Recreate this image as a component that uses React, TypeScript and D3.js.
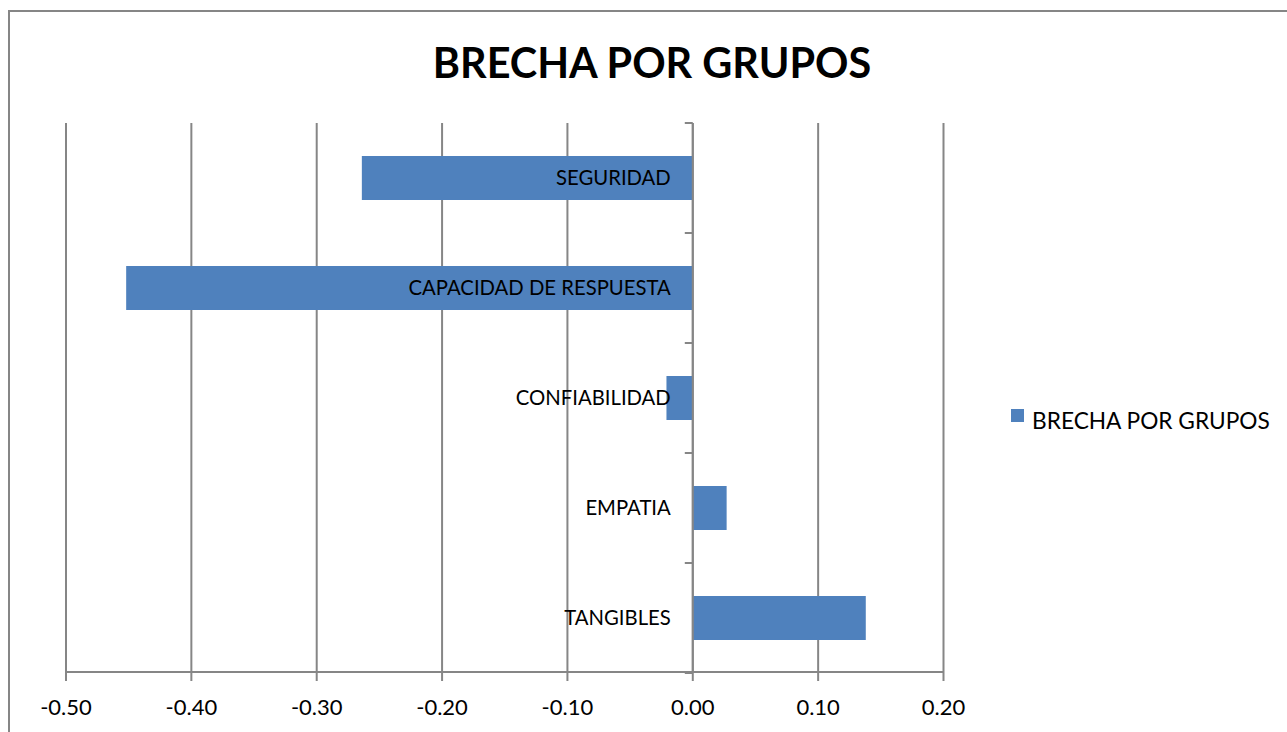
import * as d3 from "d3";
import { useRef, useEffect } from "react";

const categories = ["SEGURIDAD", "CAPACIDAD DE RESPUESTA", "CONFIABILIDAD", "EMPATIA", "TANGIBLES"];
const values = [-0.264, -0.452, -0.021, 0.027, 0.138];
const tickValues = [-0.5, -0.4, -0.3, -0.2, -0.1, 0, 0.1, 0.2];
const seriesName = "BRECHA POR GRUPOS";

export default function App(): JSX.Element {
  const svgRef = useRef<SVGSVGElement>(null);

  useEffect(() => {
    if (!svgRef.current) return;
    const svg = d3.select(svgRef.current);
    svg.selectAll("*").remove();

    const width = 1287;
    const height = 732;
    const font = "Lato, 'Open Sans', sans-serif";
    const grey = "#868686";

    // chart frame
    svg
      .append("rect")
      .attr("x", 9)
      .attr("y", 11)
      .attr("width", width + 20)
      .attr("height", height + 20)
      .attr("fill", "#fff")
      .attr("stroke", grey)
      .attr("stroke-width", 2);

    const left = 66;
    const right = 943.5;
    const top = 123;
    const bottom = 673;

    const x = d3.scaleLinear().domain([-0.5, 0.2]).range([left, right]);
    const y = d3.scaleBand().domain(categories).range([top, bottom]).paddingInner(0.6).paddingOuter(0.3);
    const band = d3.scaleBand().domain(categories).range([top, bottom]);

    // vertical grid lines
    svg
      .append("g")
      .selectAll("line")
      .data(tickValues)
      .join("line")
      .attr("x1", (d) => x(d))
      .attr("x2", (d) => x(d))
      .attr("y1", top)
      .attr("y2", bottom + 8)
      .attr("stroke", grey)
      .attr("stroke-width", 2);

    // bottom axis line
    svg
      .append("line")
      .attr("x1", left)
      .attr("x2", right)
      .attr("y1", bottom - 1)
      .attr("y2", bottom - 1)
      .attr("stroke", grey)
      .attr("stroke-width", 2);

    // bars
    svg
      .append("g")
      .selectAll("rect")
      .data(categories)
      .join("rect")
      .attr("x", (d, i) => Math.min(x(values[i]), x(0)))
      .attr("width", (d, i) => Math.abs(x(values[i]) - x(0)))
      .attr("y", (d) => y(d)!)
      .attr("height", y.bandwidth())
      .attr("fill", "#4F81BD");

    // category axis at zero with ticks
    const x0 = x(0);
    svg
      .append("line")
      .attr("x1", x0)
      .attr("x2", x0)
      .attr("y1", top)
      .attr("y2", bottom)
      .attr("stroke", grey)
      .attr("stroke-width", 2);

    const bandEdges = categories.map((c) => band(c)!).concat([bottom]);
    svg
      .append("g")
      .selectAll("line")
      .data(bandEdges)
      .join("line")
      .attr("x1", x0 - 8)
      .attr("x2", x0)
      .attr("y1", (d) => d)
      .attr("y2", (d) => d)
      .attr("stroke", grey)
      .attr("stroke-width", 2);

    // category labels
    svg
      .append("g")
      .selectAll("text")
      .data(categories)
      .join("text")
      .attr("x", x0 - 22)
      .attr("y", (d) => y(d)! + y.bandwidth() / 2)
      .attr("dy", "0.35em")
      .attr("text-anchor", "end")
      .attr("font-family", font)
      .attr("font-size", 20.3)
      .attr("fill", "#000")
      .text((d) => d);

    // tick labels (hyphen minus, like the original)
    svg
      .append("g")
      .selectAll("text")
      .data(tickValues)
      .join("text")
      .attr("x", (d) => x(d))
      .attr("y", 715)
      .attr("text-anchor", "middle")
      .attr("font-family", font)
      .attr("font-size", 22)
      .attr("fill", "#000")
      .text((d) => d3.format(".2f")(d).replace("−", "-"));

    // title
    svg
      .append("text")
      .attr("x", 652)
      .attr("y", 78)
      .attr("text-anchor", "middle")
      .attr("font-family", font)
      .attr("font-weight", "bold")
      .attr("font-size", 41.4)
      .attr("fill", "#000")
      .text(seriesName);

    // legend
    svg
      .append("rect")
      .attr("x", 1011)
      .attr("y", 409)
      .attr("width", 13)
      .attr("height", 13)
      .attr("fill", "#4F81BD");
    svg
      .append("text")
      .attr("x", 1032)
      .attr("y", 421)
      .attr("dy", "0.35em")
      .attr("font-family", font)
      .attr("font-size", 22.7)
      .attr("fill", "#000")
      .text(seriesName);
  }, []);

  return (
    <div style={{ position: "absolute", left: 0, top: 0 }}>
      <svg ref={svgRef} width={1287} height={732} style={{ display: "block" }} />
    </div>
  );
}
